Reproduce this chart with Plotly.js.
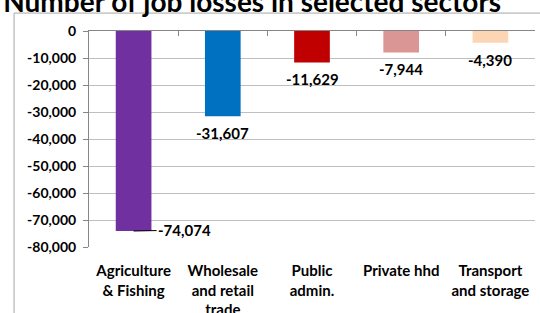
<!DOCTYPE html>
<html>
<head>
<meta charset="utf-8">
<script src="https://cdn.plot.ly/plotly-3.0.1.min.js"></script>
<style>html,body{margin:0;padding:0;background:#fff;}#chart{width:540px;height:313px;}</style>
</head>
<body>
<div id="chart"></div>
<script>
const categories = ["Agriculture<br>& Fishing", "Wholesale<br>and retail<br>trade", "Public<br>admin.", "Private hhd", "Transport<br>and storage"];
const jobLosses = [-74074, -31607, -11629, -7944, -4390];
const barColors = ["#7030A0", "#0070C0", "#C00000", "#DA9694", "#FCD5B4"];
const yTickVals = [0, -10000, -20000, -30000, -40000, -50000, -60000, -70000, -80000];
const yTickText = ["0", "-10,000", "-20,000", "-30,000", "-40,000", "-50,000", "-60,000", "-70,000", "-80,000"];
const chartTitle = "Number of job losses in selected sectors";

const FONT = "Lato, 'Open Sans', sans-serif";
const idx = categories.map((c, i) => i);

const traces = [
  {
    type: "bar",
    x: idx,
    y: jobLosses,
    marker: { color: barColors },
    hoverinfo: "skip"
  },
  {
    type: "scatter",
    mode: "markers",
    x: [0], y: [0],
    xaxis: "x2",
    marker: { opacity: 0 },
    hoverinfo: "skip",
    showlegend: false
  }
];

const annotations = jobLosses.map((v, i) => {
  const txt = v.toLocaleString("en-US");
  if (i === 0) {
    return {
      x: i, y: v, xref: "x", yref: "y",
      text: txt, showarrow: true, arrowhead: 0, arrowwidth: 1, arrowcolor: "#000",
      ax: 51, ay: -1, standoff: 0,
      font: { family: FONT, size: 15, color: "#000", weight: 700 }
    };
  }
  return {
    x: i, y: v, xref: "x", yref: "y",
    text: txt, showarrow: false, yanchor: "middle", yshift: -17,
    font: { family: FONT, size: 15, color: "#000", weight: 700 }
  };
});

const layout = {
  width: 540, height: 313,
  margin: { l: 89, r: 5, t: 31, b: 66, pad: 0 },
  paper_bgcolor: "#fff", plot_bgcolor: "#fff",
  showlegend: false,
  bargap: 0.6,
  title: {
    text: chartTitle,
    font: { family: FONT, size: 28, color: "#000", weight: 700 },
    xref: "container", x: 0.467, xanchor: "center",
    yref: "container", y: 0.962, yanchor: "bottom"
  },
  xaxis: {
    type: "linear",
    range: [-0.5, 4.5],
    tickvals: idx,
    ticktext: categories,
    ticks: "",
    showline: false,
    showgrid: false,
    zeroline: false,
    tickfont: { family: FONT, size: 15, color: "#000", weight: 700 },
    ticklabelstandoff: 13
  },
  xaxis2: {
    overlaying: "x",
    side: "top",
    range: [-0.5, 4.5],
    tickvals: [-0.5, 0.5, 1.5, 2.5, 3.5, 4.5],
    showticklabels: false,
    ticks: "inside",
    ticklen: 5,
    tickcolor: "#868686",
    showline: true,
    linecolor: "#868686",
    linewidth: 1,
    showgrid: false,
    zeroline: false
  },
  yaxis: {
    range: [-80000, 0],
    tickvals: yTickVals,
    ticktext: yTickText,
    ticks: "outside",
    ticklen: 5,
    tickcolor: "#868686",
    showline: true,
    linecolor: "#868686",
    gridcolor: "#BFBFBF",
    gridwidth: 1,
    zeroline: false,
    tickfont: { family: FONT, size: 14, color: "#000", weight: 700 },
    ticklabelstandoff: 4
  },
  annotations: annotations,
  shapes: [
    { type: "line", xref: "paper", yref: "paper", x0: -0.168, x1: -0.168, y0: 1.083, y1: -0.5, line: { color: "#A6A6A6", width: 1 } },
    { type: "line", xref: "paper", yref: "paper", x0: -0.168, x1: 1.2, y0: 1.083, y1: 1.083, line: { color: "#A6A6A6", width: 1 } }
  ]
};

Plotly.newPlot("chart", traces, layout, { staticPlot: true, displayModeBar: false });
</script>
</body>
</html>
